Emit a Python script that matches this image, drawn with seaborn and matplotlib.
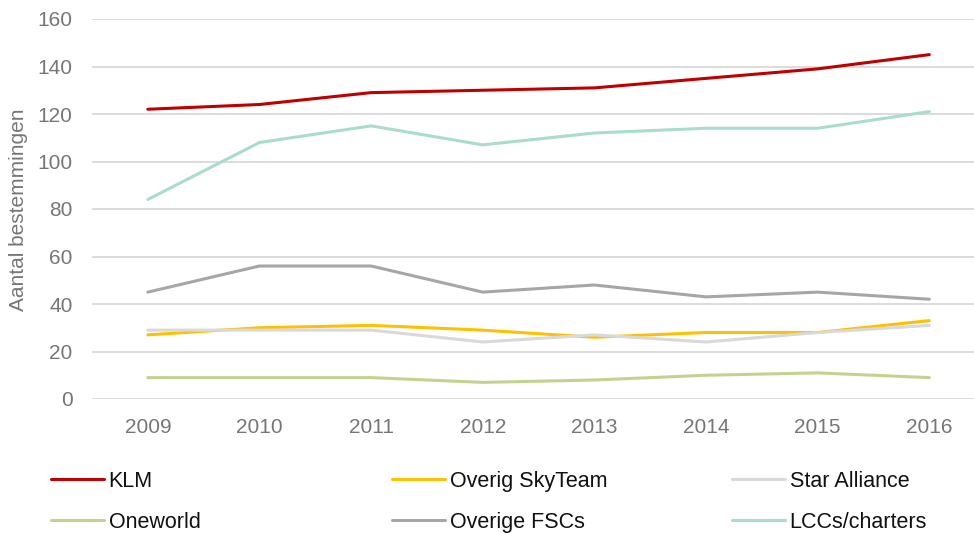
import pandas as pd
import matplotlib
matplotlib.use("Agg")
import matplotlib.pyplot as plt
import seaborn as sns

# Data
years = [2009, 2010, 2011, 2012, 2013, 2014, 2015, 2016]
klm = [122, 124, 129, 130, 131, 135, 139, 145]
overig_skyteam = [27, 30, 31, 29, 26, 28, 28, 33]
star_alliance = [29, 29, 29, 24, 27, 24, 28, 31]
oneworld = [9, 9, 9, 7, 8, 10, 11, 9]
overige_fscs = [45, 56, 56, 45, 48, 43, 45, 42]
lccs_charters = [84, 108, 115, 107, 112, 114, 114, 121]

series_names = ["KLM", "Overig SkyTeam", "Star Alliance", "Oneworld", "Overige FSCs", "LCCs/charters"]
series_values = [klm, overig_skyteam, star_alliance, oneworld, overige_fscs, lccs_charters]
colors = ["#C00000", "#FFC000", "#D9D9D9", "#C3D38F", "#A6A6A6", "#A9DCCE"]

df = pd.DataFrame(
    [(y, name, v) for name, vals in zip(series_names, series_values) for y, v in zip(years, vals)],
    columns=["Jaar", "Groep", "Aantal"],
)

sns.set_style("white")
plt.rcParams["font.family"] = ["Liberation Sans", "DejaVu Sans"]

W, H = 974, 533
fig = plt.figure(figsize=(W / 100, H / 100), dpi=100)
ax = fig.add_axes([92 / W, 1 - 399 / H, 1 - 92 / W, (399 - 19) / H])

lw = 2.2
sns.lineplot(
    data=df, x="Jaar", y="Aantal", hue="Groep", hue_order=series_names,
    palette=dict(zip(series_names, colors)), linewidth=lw, ax=ax, legend=False,
)

ax.set_ylim(0, 160)
ax.set_xlim(2008.5, 2016.4)
ax.set_yticks(range(0, 161, 20))
ax.set_xticks(years)
ax.yaxis.grid(True, color="#D9D9D9", linewidth=1.3)
ax.set_axisbelow(True)
for s in ax.spines.values():
    s.set_visible(False)
ax.tick_params(axis="both", length=0, labelsize=15, colors="#767676")
ax.tick_params(axis="x", pad=13.5)
ax.tick_params(axis="y", pad=14)
ax.set_xlabel("")
ax.set_ylabel("")
fig.text(19 / W, 1 - 210 / H, "Aantal bestemmingen", rotation=90, ha="center", va="center",
         fontsize=15, color="#767676")

# legend: three columns of two rows, row-major like the original
col_groups = [["KLM", "Oneworld"], ["Overig SkyTeam", "Overige FSCs"], ["Star Alliance", "LCCs/charters"]]
col_x = [51, 392, 732]
cmap = dict(zip(series_names, colors))
for names, x0 in zip(col_groups, col_x):
    hs = [plt.Line2D([], [], color=cmap[n], linewidth=lw) for n in names]
    fig.legend(
        hs, names, loc="upper left", bbox_to_anchor=(x0 / W, 1 - 471 / H),
        frameon=False, fontsize=15.5, handlelength=2.45, handletextpad=0.23,
        labelspacing=0.91, labelcolor="#111111", borderpad=0, borderaxespad=0,
    )

fig.savefig("out.png", dpi=100)
